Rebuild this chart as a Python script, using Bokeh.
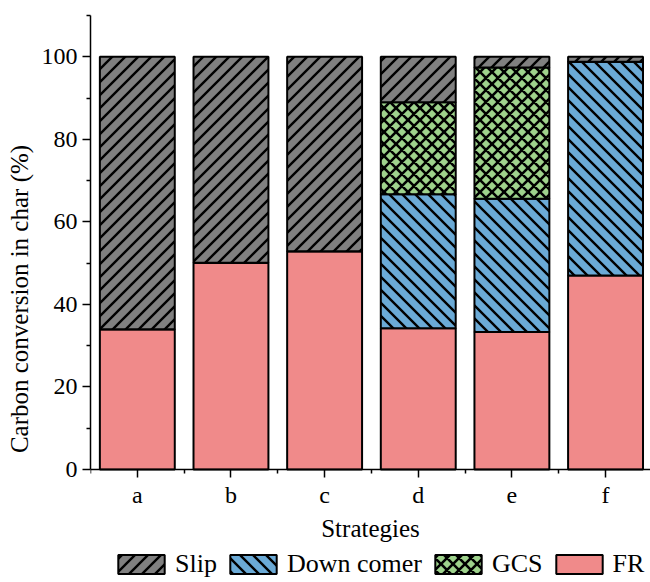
import base64
from bokeh.plotting import figure
from bokeh.models import (ColumnDataSource, Range1d, FixedTicker, Legend, LegendItem,
                          ImageURLTexture)
from bokeh.core.properties import value
from bokeh.embed import file_html
from bokeh.resources import INLINE

# Carbon conversion in char (%) for each strategy, split by location
strategies = ["a", "b", "c", "d", "e", "f"]
fr = [34.0, 50.1, 52.9, 34.2, 33.3, 47.0]
down_comer = [0.0, 0.0, 0.0, 32.5, 32.3, 51.8]
gcs = [0.0, 0.0, 0.0, 22.3, 31.8, 0.0]
slip = [66.0, 49.9, 47.1, 11.0, 2.6, 1.2]

series_keys = ["fr", "down_comer", "gcs", "slip"]
series_names = ["FR", "Down comer", "GCS", "Slip"]
colors = ["#f08a8a", "#6baad6", "#9ed28c", "#808080"]

FONT = "Liberation Serif"


def tile(size, path, width):
    """Repeating hatch tile as an svg data url."""
    svg = (
        f'<svg xmlns="http://www.w3.org/2000/svg" width="{size}" height="{size}">'
        f'<path d="{path}" stroke="black" stroke-width="{width}" fill="none"/></svg>'
    )
    return "data:image/svg+xml;base64," + base64.b64encode(svg.encode()).decode()


def slash_path(s):
    return f"M0,{s} L{s},0 M-2,2 L2,-2 M{s-2},{s+2} L{s+2},{s-2}"


def backslash_path(s):
    return f"M0,0 L{s},{s} M-2,{s-2} L2,{s+2} M{s-2},-2 L{s+2},2"


# 45-degree line textures
textures = {
    "slash": ImageURLTexture(url=tile(13, slash_path(13), 2.4)),
    "backslash": ImageURLTexture(url=tile(13, backslash_path(13), 2.4)),
    "cross": ImageURLTexture(url=tile(12, slash_path(12) + " " + backslash_path(12), 2.6)),
}
hatches = [None, value("backslash"), value("cross"), value("slash")]

source = ColumnDataSource(dict(
    x=list(range(1, len(strategies) + 1)),
    fr=fr, down_comer=down_comer, gcs=gcs, slip=slip,
))

# frame reaches the bottom of the canvas; the x axis is pinned at y = 0
# and the legend sits in the space underneath it
Y_BOTTOM = -27.38
p = figure(
    width=650, height=582,
    x_range=Range1d(0.5, 6.48), y_range=Range1d(Y_BOTTOM, 110),
    output_backend="svg", toolbar_location=None,
    min_border_left=90, min_border_right=0, min_border_top=15, min_border_bottom=0,
)
p.outline_line_color = None
p.xgrid.visible = False
p.ygrid.visible = False

renderers = p.vbar_stack(
    series_keys, x="x", width=0.8, source=source,
    fill_color=colors, line_color="black", line_width=2,
    hatch_pattern=hatches, hatch_color="black", hatch_extra=textures,
)

# x axis: strategy letters, minor ticks between bars
xax = p.xaxis[0]
xax.fixed_location = 0
xax.ticker = FixedTicker(ticks=[1, 2, 3, 4, 5, 6],
                         minor_ticks=[0.5, 1.5, 2.5, 3.5, 4.5, 5.5, 6.5])
xax.major_label_overrides = {i + 1: s for i, s in enumerate(strategies)}
xax.axis_label = "Strategies"

yax = p.yaxis[0]
yax.bounds = (0, 110)
yax.ticker = FixedTicker(ticks=[0, 20, 40, 60, 80, 100],
                         minor_ticks=[10, 30, 50, 70, 90, 110])
yax.axis_label = "Carbon conversion in char (%)"

for ax in (xax, yax):
    ax.axis_line_color = "black"
    ax.axis_line_width = 1.5
    ax.major_tick_line_color = "black"
    ax.major_tick_line_width = 1.5
    ax.minor_tick_line_color = "black"
    ax.minor_tick_line_width = 1.5
    ax.major_tick_in = 0
    ax.major_tick_out = 8
    ax.minor_tick_in = 0
    ax.minor_tick_out = 4
    ax.major_label_text_font = FONT
    ax.major_label_text_font_size = "24px"
    ax.major_label_text_color = "black"
    ax.axis_label_text_font = FONT
    ax.axis_label_text_font_size = "25px"
    ax.axis_label_text_font_style = "normal"
    ax.axis_label_text_color = "black"
    ax.major_label_standoff = 5
xax.axis_label_standoff = 3
yax.axis_label_standoff = 6

legend = Legend(
    items=[LegendItem(label=series_names[i], renderers=[renderers[i]]) for i in (3, 1, 2, 0)],
    orientation="horizontal", location=(22, 3),
    label_text_font=FONT, label_text_font_size="26px", label_text_color="black",
    glyph_width=58, glyph_height=24, label_height=24, label_standoff=5, spacing=7,
    padding=2, margin=0, border_line_color=None, background_fill_alpha=0,
)
p.add_layout(legend, "center")

open("out.html", "w").write(file_html(p, INLINE))
